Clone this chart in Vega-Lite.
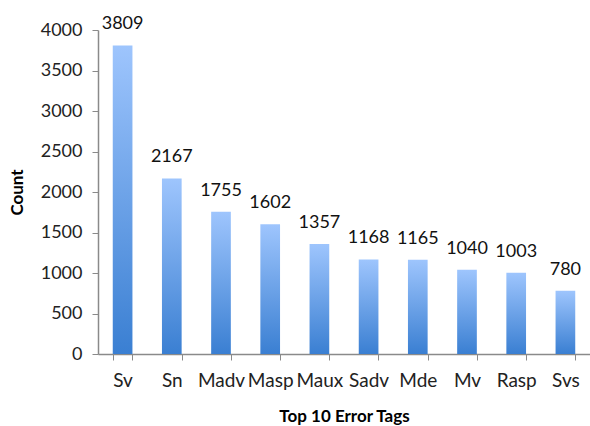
{
  "$schema": "https://vega.github.io/schema/vega-lite/v6.json",
  "autosize": {"type": "none"},
  "padding": {"left": 98, "top": 30, "right": 0, "bottom": 72},
  "width": 492,
  "height": 324,
  "background": "white",
  "config": {
    "view": {"stroke": null},
    "font": "Lato"
  },
  "data": {
    "values": [
      {"tag": "Sv", "count": 3809},
      {"tag": "Sn", "count": 2167},
      {"tag": "Madv", "count": 1755},
      {"tag": "Masp", "count": 1602},
      {"tag": "Maux", "count": 1357},
      {"tag": "Sadv", "count": 1168},
      {"tag": "Mde", "count": 1165},
      {"tag": "Mv", "count": 1040},
      {"tag": "Rasp", "count": 1003},
      {"tag": "Svs", "count": 780}
    ]
  },
  "encoding": {
    "x": {
      "field": "tag", "type": "nominal", "sort": null,
      "scale": {"paddingInner": 0.6, "paddingOuter": 0.3},
      "axis": {
        "title": "Top 10 Error Tags", "titleFontSize": 17, "titleFontWeight": "bold",
        "titleColor": "#000", "titlePadding": 18,
        "labelAngle": 0, "labelFontSize": 19, "labelColor": "#222", "labelPadding": 11,
        "domainColor": "#8a8a8a", "tickColor": "#8a8a8a", "tickSize": 6,
        "tickBand": "extent", "domainWidth": 1.5
      }
    },
    "y": {
      "field": "count", "type": "quantitative",
      "scale": {"domain": [0, 4000], "nice": false},
      "axis": {
        "title": "Count", "titleFontSize": 17, "titleFontWeight": "bold",
        "titleColor": "#000", "titlePadding": 14, "format": "d",
        "values": [0, 500, 1000, 1500, 2000, 2500, 3000, 3500, 4000],
        "labelFontSize": 18, "labelColor": "#222", "labelPadding": 10,
        "grid": false, "domainColor": "#8a8a8a", "tickColor": "#8a8a8a",
        "tickSize": 6, "domainWidth": 1.5
      }
    }
  },
  "layer": [
    {
      "mark": {
        "type": "bar",
        "color": {
          "gradient": "linear", "x1": 0, "y1": 0, "x2": 0, "y2": 1,
          "stops": [
            {"offset": 0, "color": "#9ec5fd"},
            {"offset": 1, "color": "#3a7fd2"}
          ]
        }
      }
    },
    {
      "mark": {"type": "text", "baseline": "alphabetic", "dy": -16, "fontSize": 18, "color": "#111"},
      "encoding": {"text": {"field": "count", "type": "quantitative", "format": "d"}}
    }
  ]
}
